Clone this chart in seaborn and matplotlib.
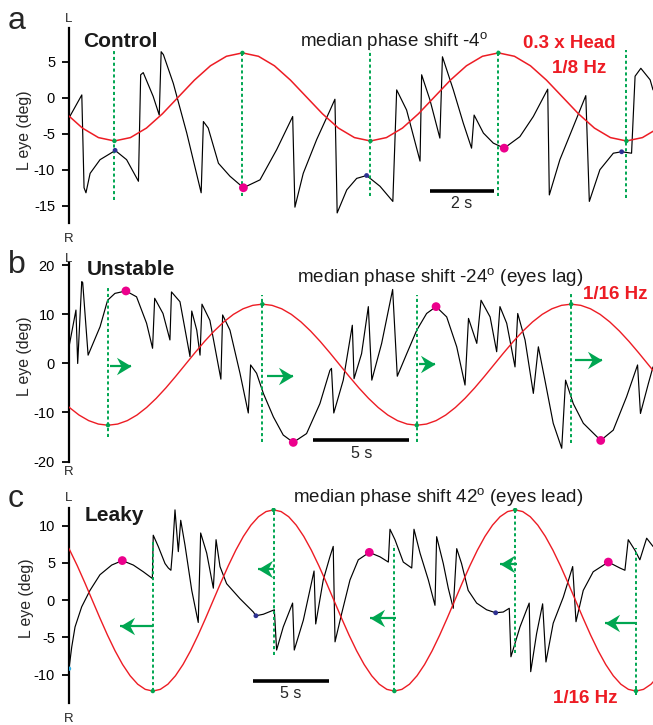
import matplotlib
matplotlib.use('Agg')
import matplotlib.pyplot as plt
from matplotlib.path import Path
import seaborn as sns

# ---------------- data (time in s, angle in deg) ----------------
# Panel a (Control, 1/8 Hz, 0.3 x head)
head_a_t = [-0.08, 0.42, 0.92, 1.42, 1.92, 2.42, 2.92, 3.42, 3.92, 4.42, 4.92, 5.42, 5.92,
            6.42, 6.92, 7.42, 7.92, 8.42, 8.92, 9.42, 9.92, 10.42, 10.92, 11.42, 11.92,
            12.42, 12.92, 13.42, 13.92, 14.42, 14.92, 15.42, 15.92, 16.42, 16.92, 17.42,
            17.92, 18.42]
head_a_v = [-2.22, -4.21, -5.53, -6.0, -5.53, -4.21, -2.22, 0.12, 2.46, 4.45, 5.77, 6.24,
            5.77, 4.45, 2.46, 0.12, -2.22, -4.21, -5.53, -6.0, -5.53, -4.21, -2.22, 0.12,
            2.46, 4.45, 5.77, 6.24, 5.77, 4.45, 2.46, 0.12, -2.22, -4.21, -5.53, -6.0,
            -5.53, -4.21]
eye_a_t = [0, 0.40, 0.47, 0.53, 0.66, 0.97, 1.38, 1.44, 1.80, 2.17, 2.24, 2.32, 2.63, 2.82,
           2.88, 2.95, 3.26, 3.68, 4.13, 4.20, 4.35, 4.67, 5.03, 5.45, 5.97, 6.49, 6.99,
           7.06, 7.32, 7.74, 8.16, 8.31, 8.38, 8.68, 8.99, 9.30, 9.72, 10.12, 10.24, 10.55,
           10.97, 11.02, 11.28, 11.59, 11.67, 12.01, 12.32, 12.58, 12.66, 12.95, 13.26,
           13.60, 14.09, 14.51, 14.96, 15.01, 15.34, 15.76, 16.15, 16.26, 16.59, 17.01,
           17.27, 17.58, 17.69, 17.87, 18.16, 18.25]
eye_a_v = [-2.8, 0.4, -12.5, -13.2, -10.5, -8.6, -7.5, -7.3, -8.6, -11.6, 3.2, 3.5, 0.2,
           -2.4, 6.4, 6.0, 2.0, -4.9, -13.2, -3.3, -4.2, -9.1, -10.9, -12.5, -11.4, -7.2,
           -2.6, -15.2, -10.5, -5.8, -1.7, -0.2, -16.0, -12.8, -11.2, -10.8, -12.3, -14.4,
           1.1, -1.7, -8.8, 3.2, -0.3, -5.6, 5.7, 1.1, -3.5, -7.0, -2.4, -4.9, -6.3, -7.0,
           -5.4, -2.6, 1.2, -13.5, -8.6, -4.0, 0.3, -14.4, -10.0, -7.7, -7.5, -7.7, 3.0,
           4.1, 2.5, 1.1]
mag_a_t, mag_a_v = [5.45, 13.60], [-12.5, -7.0]
blue_a_t, blue_a_v = [1.44, 9.30, 17.27], [-7.3, -10.8, -7.5]
line_a_t = [1.42, 5.42, 9.42, 13.42, 17.42]
line_a_head = [-6.0, 6.24, -6.0, 6.24, -6.0]
line_a_top = [6.5, 6.5, 6.6, 6.6, 6.6]
line_a_bot = [-14.2, -13.7, -13.7, -13.7, -13.9]
ticks_a = [5, 0, -5, -10, -15]

# Panel b (Unstable, 1/16 Hz)
head_b_t = [-0.48, 0.02, 0.52, 1.02, 1.52, 2.02, 2.52, 3.02, 3.52, 4.02, 4.52, 5.02, 5.52,
            6.02, 6.52, 7.02, 7.52, 8.02, 8.52, 9.02, 9.52, 10.02, 10.52, 11.02, 11.52,
            12.02, 12.52, 13.02, 13.52, 14.02, 14.52, 15.02, 15.52, 16.02, 16.52, 17.02,
            17.52, 18.02, 18.52, 19.02, 19.52, 20.02, 20.52, 21.02, 21.52, 22.02, 22.52,
            23.02, 23.52, 24.02, 24.52, 25.02, 25.52, 26.02, 26.52, 27.02, 27.52, 28.02,
            28.52, 29.02, 29.52, 30.02, 30.52]
head_b_v = [-7.11, -8.98, -10.52, -11.66, -12.36, -12.6, -12.36, -11.66, -10.52, -8.98,
            -7.11, -4.98, -2.66, -0.25, 2.16, 4.48, 6.61, 8.48, 10.02, 11.16, 11.86, 12.1,
            11.86, 11.16, 10.02, 8.48, 6.61, 4.48, 2.16, -0.25, -2.66, -4.98, -7.11, -8.98,
            -10.52, -11.66, -12.36, -12.6, -12.36, -11.66, -10.52, -8.98, -7.11, -4.98,
            -2.66, -0.25, 2.16, 4.48, 6.61, 8.48, 10.02, 11.16, 11.86, 12.1, 11.86, 11.16,
            10.02, 8.48, 6.61, 4.48, 2.16, -0.25, -2.66]
eye_b_t = [0, 0.36, 0.45, 0.66, 0.71, 0.99, 1.61, 2.00, 2.38, 2.95, 3.50, 4.02, 4.33, 4.44,
           4.87, 5.23, 5.31, 5.75, 6.27, 6.36, 6.62, 6.79, 6.89, 7.30, 7.87, 7.96, 8.34,
           8.86, 9.29, 9.41, 9.72, 10.07, 10.59, 11.10, 11.62, 12.31, 13.00, 13.52, 13.60,
           13.72, 14.21, 14.68, 14.77, 15.16, 15.51, 15.69, 16.20, 16.77, 17.01, 17.50,
           18.02, 18.53, 19.02, 19.57, 20.09, 20.52, 20.70, 21.13, 21.35, 21.82, 22.16,
           22.33, 22.68, 23.11, 23.25, 23.63, 24.06, 24.32, 24.66, 25.09, 25.53, 25.73,
           26.13, 26.65, 27.55, 28.20, 28.89, 29.46, 29.61, 30.02, 30.26]
eye_b_v = [3.4, 10.9, 0, 16.7, 16.5, 1.7, 7.5, 12.9, 14.3, 14.8, 13.6, 8.2, 3.1, 13.3, 10.2,
           4.8, 14.6, 12.6, 1.4, 10.7, 6.8, 1.7, 12.1, 8.8, -3.2, 9.9, 6.8, -2.0, -10.1,
           -0.3, -2.0, -6.1, -10.9, -14.6, -16.1, -14.3, -8.2, -1.4, -1.0, -10.1, -3.4, 7.8,
           -3.1, 2.0, 11.6, -3.4, 4.1, 15.1, -2.6, 2.0, 6.8, 10.2, 11.6, 9.5, 3.4, -4.4, 9.2,
           4.1, 12.9, 9.5, 2.4, 11.6, 8.2, -0.7, 10.2, 4.8, -6.1, 3.4, -3.4, -12.2, -17.3,
           -3.4, -8.2, -12.2, -15.7, -13.6, -6.8, -0.3, -10.2, -4.1, -0.7]
mag_b_t, mag_b_v = [2.95, 11.62, 19.02, 27.55], [14.8, -16.1, 11.6, -15.7]
line_b_t = [2.02, 10.02, 18.02, 26.02]
line_b_head = [-12.6, 12.1, -12.6, 12.1]
line_b_top = [15.4, 13.9, 13.9, 14.3]
line_b_bot = [-14.9, -16.1, -16.1, -16.3]
arrow_b_tail = [2.12, 10.24, 18.15, 26.22]
arrow_b_tip = [3.21, 11.62, 18.96, 27.60]
arrow_b_y = [-0.55, -2.5, -0.2, 0.8]
ticks_b = [20, 10, 0, -10, -20]

# Panel c (Leaky, 1/16 Hz)
head_c_t = [-0.45, 0.05, 0.55, 1.05, 1.55, 2.05, 2.55, 3.05, 3.55, 4.05, 4.55, 5.05, 5.55,
            6.05, 6.55, 7.05, 7.55, 8.05, 8.55, 9.05, 9.55, 10.05, 10.55, 11.05, 11.55,
            12.05, 12.55, 13.05, 13.55, 14.05, 14.55, 15.05, 15.55, 16.05, 16.55, 17.05,
            17.55, 18.05, 18.55, 19.05, 19.55, 20.05, 20.55, 21.05, 21.55, 22.05, 22.55,
            23.05, 23.55, 24.05, 24.55, 25.05, 25.55, 26.05, 26.55, 27.05, 27.55, 28.05,
            28.55, 29.05, 29.55, 30.05, 30.55, 31.05, 31.55, 32.05, 32.55, 33.05, 33.55,
            34.05, 34.55, 35.05, 35.55, 36.05, 36.55, 37.05, 37.55, 38.05, 38.55, 39.05]
head_c_v = [8.54, 6.7, 4.6, 2.32, -0.05, -2.42, -4.7, -6.8, -8.64, -10.15, -11.28, -11.97,
            -12.2, -11.97, -11.28, -10.15, -8.64, -6.8, -4.7, -2.42, -0.05, 2.32, 4.6, 6.7,
            8.54, 10.05, 11.18, 11.87, 12.1, 11.87, 11.18, 10.05, 8.54, 6.7, 4.6, 2.32,
            -0.05, -2.42, -4.7, -6.8, -8.64, -10.15, -11.28, -11.97, -12.2, -11.97, -11.28,
            -10.15, -8.64, -6.8, -4.7, -2.42, -0.05, 2.32, 4.6, 6.7, 8.54, 10.05, 11.18,
            11.87, 12.1, 11.87, 11.18, 10.05, 8.54, 6.7, 4.6, 2.32, -0.05, -2.42, -4.7,
            -6.8, -8.64, -10.15, -11.28, -11.97, -12.2, -11.97, -11.28, -10.15]
eye_c_t = [0, 0.18, 0.40, 0.84, 1.39, 2.05, 2.83, 3.53, 4.26, 4.92, 5.52, 5.58, 5.91, 6.36,
           6.58, 6.75, 6.86, 7.02, 7.24, 7.40, 7.68, 8.13, 8.56, 8.72, 9.12, 9.56, 9.74,
           10.00, 10.44, 11.32, 12.21, 12.38, 12.87, 13.60, 13.75, 14.19, 14.81, 14.92,
           15.52, 16.23, 16.34, 16.84, 17.28, 17.50, 17.62, 18.06, 18.61, 19.16, 19.89,
           20.60, 21.15, 21.26, 21.59, 22.14, 22.70, 22.85, 23.25, 23.80, 24.24, 24.35,
           24.79, 25.12, 25.45, 25.68, 26.00, 26.44, 27.00, 27.66, 28.26, 28.76, 29.16,
           29.27, 29.87, 30.48, 30.58, 30.97, 31.37, 31.59, 32.07, 32.74, 33.36, 33.58,
           34.06, 34.72, 35.72, 36.49, 36.82, 37.04, 37.48, 37.81, 38.26, 38.68]
eye_c_v = [-9.2, -6.3, -3.6, -0.9, 1.3, 3.4, 4.7, 5.3, 4.7, 3.8, 2.9, 8.7, 7.2, 4.9, 4.3,
           4.0, 6.7, 12.1, 6.5, 10.7, 7.4, 1.3, -3.0, 9.0, 6.3, 1.6, 8.1, 4.5, 2.2, 0.2,
           -1.6, -2.1, -1.9, -1.3, -6.7, -3.6, -0.4, -6.7, -2.7, 3.9, -3.2, 2.7, 5.8, 7.2,
           -5.6, -1.8, 2.7, 5.4, 6.4, 5.8, 5.1, 9.5, 8.1, 5.1, 4.3, 9.5, 6.3, 2.7, -0.7,
           8.5, 4.9, 1.6, -1.1, 6.9, 4.9, 1.3, -0.4, -1.3, -1.7, -1.6, -1.1, -7.6, -3.6,
           -0.4, -9.6, -4.5, -0.5, -8.3, -3.1, 0.4, 4.5, -2.9, 1.3, 3.8, 5.1, 4.3, 4.0,
           8.1, 6.7, 5.4, 8.3, 7.2]
mag_c_t, mag_c_v = [3.53, 19.89, 35.72], [5.3, 6.4, 5.1]
blue_c_t, blue_c_v = [12.38, 28.26], [-2.1, -1.7]
cyan_c_t, cyan_c_v = [0.0], [-9.2]
line_c_t = [5.55, 13.55, 21.55, 29.55, 37.55]
line_c_head = [-12.2, 12.1, -12.2, 12.1, -12.2]
line_c_top = [7.8, 12.2, 7.4, 12.2, 7.0]
line_c_bot = [-12.2, -7.4, -12.2, -7.1, -12.75]
arrow_c_tail = [5.54, 13.58, 21.66, 29.65, 37.50]
arrow_c_tip = [3.38, 12.52, 19.93, 28.54, 35.50]
arrow_c_y = [-3.45, 4.16, -2.4, 4.9, -3.1]
ticks_c = [10, 5, 0, -5, -10]

titles = ['Control', 'Unstable', 'Leaky']
letters = ['a', 'b', 'c']
medians = ['median phase shift -4$^{\\rm o}$',
           'median phase shift -24$^{\\rm o}$ (eyes lag)',
           'median phase shift 42$^{\\rm o}$ (eyes lead)']
scale_labels = ['2 s', '5 s', '5 s']

# ---------------- style ----------------
sns.set_theme(style='white')
plt.rcParams['font.family'] = ['Liberation Sans', 'DejaVu Sans']
plt.rcParams['mathtext.fontset'] = 'custom'
plt.rcParams['mathtext.rm'] = 'Liberation Sans'
plt.rcParams['axes.unicode_minus'] = False

RED = '#ed1c24'
GREEN = '#00a651'
MAG = '#ec008c'
BLUE = '#2e3192'
CYAN = '#29abe2'

W, H = 653, 725
fig = plt.figure(figsize=(W / 100, H / 100), dpi=100)

# notched arrow-head markers, tip at the marker origin
HEAD_R = Path([(0, 0), (-1, 0.6), (-0.68, 0), (-1, -0.6), (0, 0)],
              [Path.MOVETO, Path.LINETO, Path.LINETO, Path.LINETO, Path.CLOSEPOLY])
HEAD_L = Path([(0, 0), (1, 0.6), (0.68, 0), (1, -0.6), (0, 0)],
              [Path.MOVETO, Path.LINETO, Path.LINETO, Path.LINETO, Path.CLOSEPOLY])


def fx(px):
    return px / W


def fy(py):
    return 1 - py / H


def add_axes(top_px, bot_px):
    return fig.add_axes([fx(69), fy(bot_px), 584 / W, (bot_px - top_px) / H])


def style_axes(ax, xlim, ylim, ticks):
    ax.set_xlim(*xlim)
    ax.set_ylim(*ylim)
    ax.set_xticks([])
    ax.set_yticks(ticks)
    ax.set_yticklabels([str(t) for t in ticks])
    for s in ['top', 'right', 'bottom']:
        ax.spines[s].set_visible(False)
    ax.spines['left'].set_color('black')
    ax.spines['left'].set_linewidth(1.6)
    ax.tick_params(axis='y', left=True, direction='out', length=5, width=1.3,
                   pad=5, labelsize=10.5, colors='black')
    ax.set_xlabel('')
    ax.set_ylabel('')
    ax.patch.set_alpha(0)


def traces(ax, ht, hv, et, ev, lw_red=1.0):
    sns.lineplot(x=et, y=ev, ax=ax, color='black', linewidth=0.85, sort=False,
                 estimator=None, errorbar=None, zorder=2)
    sns.lineplot(x=ht, y=hv, ax=ax, color=RED, linewidth=lw_red, sort=False,
                 estimator=None, errorbar=None, zorder=3)


def green_lines(ax, lt, top, bot, hv):
    ax.vlines(lt, bot, top, colors=GREEN, linestyles=[(0, (1.6, 1.4))], linewidth=1.4,
              zorder=4)
    sns.scatterplot(x=lt, y=hv, ax=ax, color=GREEN, s=10, edgecolor='none', zorder=6)


def dots(ax, t, v, color, s):
    sns.scatterplot(x=t, y=v, ax=ax, color=color, s=s, edgecolor='none', zorder=7)


def arrows(ax, tails, tips, ys):
    for a, b, y in zip(tails, tips, ys):
        ax.plot([a, b], [y, y], color=GREEN, lw=1.6, solid_capstyle='butt', zorder=6)
        ax.plot([b], [y], linestyle='none', marker=HEAD_R if b > a else HEAD_L,
                markersize=21, color=GREEN, markeredgewidth=0, zorder=6)


def scalebar(ax, t0, length, y, label, ty):
    ax.plot([t0, t0 + length], [y, y], color='black', lw=2.6, solid_capstyle='butt')
    ax.text(t0 + length / 2, ty, label, ha='center', va='center', fontsize=11.5)


# ---- panel a ----
ax_a = add_axes(28, 223)
traces(ax_a, head_a_t, head_a_v, eye_a_t, eye_a_v, lw_red=1.1)
green_lines(ax_a, line_a_t, line_a_top, line_a_bot, line_a_head)
dots(ax_a, mag_a_t, mag_a_v, MAG, 40)
dots(ax_a, blue_a_t, blue_a_v, BLUE, 12)
scalebar(ax_a, 11.28, 2, -12.9, scale_labels[0], -14.7)
style_axes(ax_a, (0, 18.25), (-17.4, 9.7), ticks_a)

# ---- panel b ----
ax_b = add_axes(263, 462)
traces(ax_b, head_b_t, head_b_v, eye_b_t, eye_b_v)
green_lines(ax_b, line_b_t, line_b_top, line_b_bot, line_b_head)
dots(ax_b, mag_b_t, mag_b_v, MAG, 40)
arrows(ax_b, arrow_b_tail, arrow_b_tip, arrow_b_y)
scalebar(ax_b, 12.64, 5, -15.65, scale_labels[1], -18.3)
style_axes(ax_b, (0, 30.26), (-20.1, 20.5), ticks_b)

# ---- panel c ----
ax_c = add_axes(508, 703)
traces(ax_c, head_c_t, head_c_v, eye_c_t, eye_c_v)
green_lines(ax_c, line_c_t, line_c_top, line_c_bot, line_c_head)
dots(ax_c, mag_c_t, mag_c_v, MAG, 40)
dots(ax_c, blue_c_t, blue_c_v, BLUE, 12)
dots(ax_c, cyan_c_t, cyan_c_v, CYAN, 10)
arrows(ax_c, arrow_c_tail, arrow_c_tip, arrow_c_y)
scalebar(ax_c, 12.19, 5, -10.87, scale_labels[2], -12.5)
style_axes(ax_c, (0, 38.68), (-13.8, 12.35), ticks_c)

# ---------------- texts ----------------
letter_pos = [(8, 29), (8, 273), (8, 507)]
title_pos = [(83, 47), (87, 275), (85, 521)]
median_pos = [(300, 47), (297, 283), (293, 503)]
L_pos = [22, 262, 501]
R_pos = [242, 475, 722]
ylab_pos = [(25, 130), (25, 356), (27, 598)]

for i in range(3):
    fig.text(fx(letter_pos[i][0]), fy(letter_pos[i][1]), letters[i], fontsize=23,
             ha='left', va='baseline')
    fig.text(fx(title_pos[i][0]), fy(title_pos[i][1]), titles[i], fontsize=15,
             fontweight='bold', ha='left', va='baseline', color='#1a1a1a')
    fig.text(fx(median_pos[i][0]), fy(median_pos[i][1]), medians[i], fontsize=13.5,
             ha='left', va='baseline', color='#1a1a1a')
    fig.text(fx(69), fy(L_pos[i]), 'L', fontsize=9.5, ha='center', va='baseline')
    fig.text(fx(69), fy(R_pos[i]), 'R', fontsize=9.5, ha='center', va='baseline')
    fig.text(fx(ylab_pos[i][0]), fy(ylab_pos[i][1]), 'L eye (deg)', fontsize=11.4,
             rotation=90, ha='center', va='center')

fig.text(fx(522.7), fy(48), '0.3 x Head', fontsize=13.5, fontweight='bold', color=RED,
         ha='left', va='baseline')
fig.text(fx(551.7), fy(73), '1/8 Hz', fontsize=13.5, fontweight='bold', color=RED,
         ha='left', va='baseline')
fig.text(fx(583), fy(299), '1/16 Hz', fontsize=13.5, fontweight='bold', color=RED,
         ha='left', va='baseline')
fig.text(fx(553), fy(703), '1/16 Hz', fontsize=13.5, fontweight='bold', color=RED,
         ha='left', va='baseline')

fig.savefig('out.png', dpi=100, facecolor='white')
